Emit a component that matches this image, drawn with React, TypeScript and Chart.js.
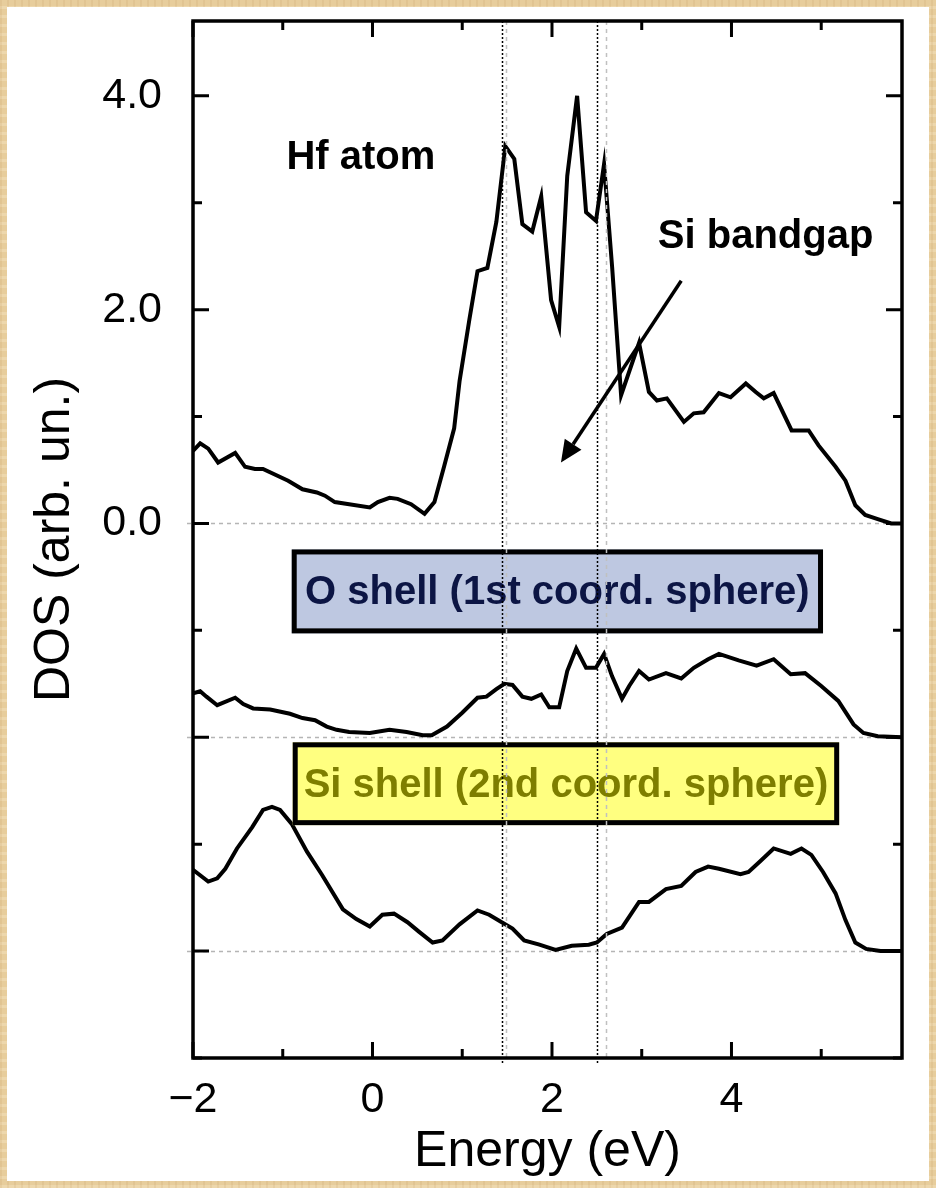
import React, { useEffect, useRef } from 'react';
import { Chart, registerables } from 'chart.js';

Chart.register(...registerables);

// ---------- data (energy in eV, DOS in arb. units; lower curves are drawn offset at -2 and -4) ----------
const hfEnergy = [-2.0, -1.92, -1.83, -1.72, -1.53, -1.42, -1.31, -1.22, -0.94, -0.78, -0.62, -0.53, -0.42, -0.03, 0.06, 0.19, 0.28, 0.43, 0.58, 0.69, 0.8, 0.91, 0.97, 1.08, 1.17, 1.28, 1.38, 1.48, 1.58, 1.67, 1.78, 1.88, 1.99, 2.08, 2.17, 2.28, 2.38, 2.49, 2.58, 2.67, 2.77, 2.97, 3.08, 3.17, 3.28, 3.47, 3.58, 3.69, 3.86, 3.99, 4.16, 4.27, 4.36, 4.47, 4.67, 4.86, 4.97, 5.16, 5.27, 5.38, 5.49, 5.63, 5.78, 5.9];
const hfDos = [0.68, 0.75, 0.7, 0.57, 0.66, 0.53, 0.51, 0.51, 0.4, 0.32, 0.29, 0.26, 0.2, 0.15, 0.2, 0.24, 0.23, 0.18, 0.09, 0.2, 0.54, 0.89, 1.33, 1.91, 2.36, 2.39, 2.82, 3.53, 3.41, 2.8, 2.73, 3.06, 2.09, 1.84, 3.25, 4.0, 2.91, 2.83, 3.36, 2.4, 1.2, 1.69, 1.23, 1.15, 1.17, 0.95, 1.03, 1.04, 1.22, 1.18, 1.31, 1.23, 1.17, 1.22, 0.87, 0.87, 0.73, 0.53, 0.4, 0.17, 0.08, 0.04, 0.0, 0.0];

const oEnergy = [-2.0, -1.92, -1.85, -1.73, -1.53, -1.44, -1.33, -1.14, -0.92, -0.78, -0.64, -0.51, -0.4, -0.26, -0.03, 0.19, 0.38, 0.56, 0.66, 0.83, 1.0, 1.17, 1.27, 1.38, 1.47, 1.56, 1.67, 1.77, 1.88, 1.97, 2.08, 2.17, 2.27, 2.38, 2.49, 2.58, 2.67, 2.78, 2.86, 2.97, 3.08, 3.27, 3.44, 3.58, 3.74, 3.86, 4.08, 4.28, 4.47, 4.66, 4.82, 5.0, 5.19, 5.36, 5.47, 5.63, 5.9];
const oDos = [-1.59, -1.57, -1.62, -1.7, -1.63, -1.69, -1.73, -1.74, -1.78, -1.82, -1.84, -1.9, -1.93, -1.95, -1.96, -1.93, -1.95, -1.98, -1.98, -1.9, -1.77, -1.63, -1.62, -1.55, -1.5, -1.51, -1.62, -1.64, -1.6, -1.72, -1.72, -1.38, -1.17, -1.35, -1.35, -1.22, -1.43, -1.64, -1.52, -1.38, -1.46, -1.4, -1.45, -1.35, -1.27, -1.22, -1.28, -1.33, -1.27, -1.41, -1.4, -1.52, -1.66, -1.88, -1.96, -1.99, -2.0];

const siEnergy = [-2.0, -1.83, -1.73, -1.64, -1.51, -1.34, -1.22, -1.12, -1.03, -0.9, -0.73, -0.56, -0.33, -0.18, -0.03, 0.11, 0.24, 0.39, 0.52, 0.67, 0.78, 0.97, 1.17, 1.3, 1.44, 1.56, 1.69, 1.86, 2.04, 2.22, 2.41, 2.5, 2.61, 2.78, 2.97, 3.08, 3.27, 3.44, 3.6, 3.74, 3.86, 4.1, 4.19, 4.32, 4.47, 4.66, 4.78, 4.89, 5.02, 5.16, 5.27, 5.38, 5.5, 5.66, 5.9];
const siDos = [-3.24, -3.35, -3.32, -3.23, -3.04, -2.84, -2.68, -2.65, -2.68, -2.81, -3.07, -3.29, -3.61, -3.7, -3.77, -3.66, -3.65, -3.73, -3.82, -3.92, -3.9, -3.75, -3.62, -3.66, -3.73, -3.79, -3.9, -3.94, -3.99, -3.95, -3.94, -3.92, -3.84, -3.78, -3.54, -3.54, -3.42, -3.39, -3.26, -3.21, -3.23, -3.28, -3.26, -3.16, -3.04, -3.09, -3.04, -3.1, -3.26, -3.46, -3.71, -3.92, -3.98, -4.0, -4.0];

const xTickValues = [-2, -1, 0, 1, 2, 3, 4, 5];
const xTickLabels = ['\u22122', '', '0', '', '2', '', '4', ''];
const yTickValues = [-5, -4, -3, -2, -1, 0, 1, 2, 3, 4];
const yTickLabels = ['', '', '', '', '', '0.0', '', '2.0', '', '4.0'];

const baselineValues = [0, -2, -4];
const bandEdgesBlack = [1.44, 2.5];
const bandEdgesGrey = [1.49, 2.6];

const xTitle = 'Energy (eV)';
const yTitle = 'DOS (arb. un.)';
const hfLabel = 'Hf atom';
const gapLabel = 'Si bandgap';
const oShellLabel = 'O shell (1st coord. sphere)';
const siShellLabel = 'Si shell (2nd coord. sphere)';

// annotation anchors in data units
const hfLabelAt = [-0.13, 3.42];
const gapLabelAt = [4.38, 2.68];
const arrowFrom = [3.44, 2.27];
const arrowTo = [2.1, 0.57];
const oBox = [-0.9, 5.02, -0.243, -1.028];
const siBox = [-0.889, 5.2, -2.047, -2.822];

const FONT = '"Liberation Sans", Arial, Helvetica, sans-serif';

const decorPlugin = {
  id: 'decor',
  beforeDatasetsDraw(chart: any) {
    const { ctx, chartArea: a, scales } = chart;
    const y = scales.y;
    ctx.save();
    ctx.strokeStyle = '#b5b5b5';
    ctx.lineWidth = 1.5;
    ctx.setLineDash([4, 4]);
    baselineValues.forEach((v) => {
      const py = Math.round(y.getPixelForValue(v)) + 0.5;
      ctx.beginPath();
      ctx.moveTo(a.left - 6, py);
      ctx.lineTo(a.right, py);
      ctx.stroke();
    });
    ctx.restore();
  },
  afterDatasetsDraw(chart: any) {
    const { ctx, chartArea: a, scales } = chart;
    const x = scales.x;
    const y = scales.y;
    ctx.save();

    // label boxes
    const drawBox = (b: number[], fill: string, color: string, text: string) => {
      const lw = 5;
      const x0 = x.getPixelForValue(b[0]);
      const x1 = x.getPixelForValue(b[1]);
      const y0 = y.getPixelForValue(b[2]);
      const y1 = y.getPixelForValue(b[3]);
      ctx.fillStyle = fill;
      ctx.fillRect(x0, y0, x1 - x0, y1 - y0);
      ctx.lineWidth = lw;
      ctx.strokeStyle = '#000';
      ctx.setLineDash([]);
      ctx.strokeRect(x0 + lw / 2, y0 + lw / 2, x1 - x0 - lw, y1 - y0 - lw);
      ctx.fillStyle = color;
      ctx.font = `bold 40px ${FONT}`;
      ctx.textAlign = 'center';
      ctx.textBaseline = 'middle';
      ctx.fillText(text, (x0 + x1) / 2, (y0 + y1) / 2 + 2);
    };
    drawBox(oBox, '#bec8e1', '#0c1544', oShellLabel);
    drawBox(siBox, '#ffff80', '#7e7e00', siShellLabel);

    // band edge markers
    ctx.lineWidth = 1.5;
    ctx.strokeStyle = '#c0c0c0';
    ctx.setLineDash([4, 4]);
    bandEdgesGrey.forEach((e) => {
      const px = Math.round(x.getPixelForValue(e)) + 0.5;
      ctx.beginPath();
      ctx.moveTo(px, a.top);
      ctx.lineTo(px, a.bottom);
      ctx.stroke();
    });
    ctx.strokeStyle = '#000';
    ctx.setLineDash([2, 2]);
    bandEdgesBlack.forEach((e) => {
      const px = Math.round(x.getPixelForValue(e)) + 0.5;
      ctx.beginPath();
      ctx.moveTo(px, a.top);
      ctx.lineTo(px, a.bottom + 6);
      ctx.stroke();
    });
    ctx.setLineDash([]);

    // arrow
    const ax0 = x.getPixelForValue(arrowFrom[0]);
    const ay0 = y.getPixelForValue(arrowFrom[1]);
    const ax1 = x.getPixelForValue(arrowTo[0]);
    const ay1 = y.getPixelForValue(arrowTo[1]);
    const ang = Math.atan2(ay1 - ay0, ax1 - ax0);
    const hl = 22;
    const hw = 10;
    const bx = ax1 - hl * Math.cos(ang);
    const by = ay1 - hl * Math.sin(ang);
    ctx.strokeStyle = '#000';
    ctx.lineWidth = 3.5;
    ctx.beginPath();
    ctx.moveTo(ax0, ay0);
    ctx.lineTo(bx, by);
    ctx.stroke();
    ctx.fillStyle = '#000';
    ctx.beginPath();
    ctx.moveTo(ax1, ay1);
    ctx.lineTo(bx + hw * Math.sin(ang), by - hw * Math.cos(ang));
    ctx.lineTo(bx - hw * Math.sin(ang), by + hw * Math.cos(ang));
    ctx.closePath();
    ctx.fill();

    // text labels
    ctx.fillStyle = '#000';
    ctx.font = `bold 40px ${FONT}`;
    ctx.textAlign = 'center';
    ctx.textBaseline = 'middle';
    ctx.fillText(hfLabel, x.getPixelForValue(hfLabelAt[0]), y.getPixelForValue(hfLabelAt[1]));
    ctx.fillText(gapLabel, x.getPixelForValue(gapLabelAt[0]), y.getPixelForValue(gapLabelAt[1]));

    // frame
    ctx.lineWidth = 3.5;
    ctx.strokeStyle = '#000';
    ctx.strokeRect(a.left, a.top, a.right - a.left, a.bottom - a.top);

    // inward ticks on all sides
    ctx.lineWidth = 3;
    xTickValues.forEach((v) => {
      const px = x.getPixelForValue(v);
      const len = v % 2 === 0 ? 16 : 9;
      ctx.beginPath();
      ctx.moveTo(px, a.bottom);
      ctx.lineTo(px, a.bottom - len);
      ctx.moveTo(px, a.top);
      ctx.lineTo(px, a.top + len);
      ctx.stroke();
    });
    yTickValues.forEach((v) => {
      const py = y.getPixelForValue(v);
      const len = v % 2 === 0 ? 16 : 9;
      ctx.beginPath();
      ctx.moveTo(a.left, py);
      ctx.lineTo(a.left + len, py);
      ctx.moveTo(a.right, py);
      ctx.lineTo(a.right - len, py);
      ctx.stroke();
    });
    ctx.restore();
  },
};

const toPoints = (xs: number[], ys: number[]) => xs.map((e, i) => ({ x: e, y: ys[i] }));

export default function App() {
  const canvasRef = useRef<HTMLCanvasElement | null>(null);

  useEffect(() => {
    const canvas = canvasRef.current;
    if (!canvas) return;
    const lineStyle = {
      borderColor: '#000',
      borderWidth: 4,
      pointRadius: 0,
      tension: 0,
      fill: false,
    };
    const chart = new Chart(canvas, {
      type: 'line',
      data: {
        datasets: [
          { label: 'Hf', data: toPoints(hfEnergy, hfDos), ...lineStyle },
          { label: 'O', data: toPoints(oEnergy, oDos), ...lineStyle },
          { label: 'Si', data: toPoints(siEnergy, siDos), ...lineStyle },
        ],
      },
      options: {
        responsive: false,
        animation: false,
        events: [],
        layout: { padding: { left: 0, right: 34, top: 21, bottom: 0 } },
        plugins: { legend: { display: false }, tooltip: { enabled: false } },
        scales: {
          x: {
            type: 'linear',
            min: -2,
            max: 5.9,
            grid: { display: false },
            border: { display: false },
            afterBuildTicks: (s: any) => {
              s.ticks = xTickValues.map((v) => ({ value: v }));
            },
            afterFit: (s: any) => {
              s.height = 130;
              s.paddingLeft = 0;
              s.paddingRight = 0;
            },
            ticks: {
              autoSkip: false,
              maxRotation: 0,
              padding: 8,
              color: '#000',
              font: { family: FONT, size: 43 },
              callback: (_v: any, i: number) => xTickLabels[i],
            },
            title: {
              display: true,
              text: xTitle,
              color: '#000',
              font: { family: FONT, size: 50 },
              padding: { top: 0, bottom: 6 },
            },
          },
          y: {
            type: 'linear',
            min: -5,
            max: 4.7,
            grid: { display: false },
            border: { display: false },
            afterBuildTicks: (s: any) => {
              s.ticks = yTickValues.map((v) => ({ value: v }));
            },
            afterFit: (s: any) => {
              s.width = 193;
              s.paddingTop = 0;
              s.paddingBottom = 0;
            },
            ticks: {
              autoSkip: false,
              padding: 23,
              color: '#000',
              font: { family: FONT, size: 43 },
              callback: (_v: any, i: number) => yTickLabels[i],
            },
            title: {
              display: true,
              text: yTitle,
              color: '#000',
              font: { family: FONT, size: 50 },
              padding: { top: 25, bottom: 0 },
            },
          },
        },
      },
      plugins: [decorPlugin],
    });
    return () => chart.destroy();
  }, []);

  return (
    <div
      style={{
        position: 'fixed',
        left: 0,
        top: 0,
        width: 936,
        height: 1188,
        overflow: 'hidden',
        background:
          'repeating-linear-gradient(90deg, rgba(170,120,60,0.10) 0px, rgba(170,120,60,0.10) 2px, rgba(255,255,255,0) 2px, rgba(255,255,255,0) 7px), repeating-linear-gradient(0deg, rgba(255,245,220,0.25) 0px, rgba(255,245,220,0.25) 3px, rgba(0,0,0,0) 3px, rgba(0,0,0,0) 9px), #e7cd9c',
      }}
    >
      <div
        style={{
          position: 'absolute',
          left: 7,
          top: 7,
          width: 922,
          height: 1174,
          background: '#ffffff',
        }}
      />
      <canvas
        ref={canvasRef}
        width={936}
        height={1188}
        style={{ position: 'absolute', left: 0, top: 0, width: 936, height: 1188 }}
      />
    </div>
  );
}
